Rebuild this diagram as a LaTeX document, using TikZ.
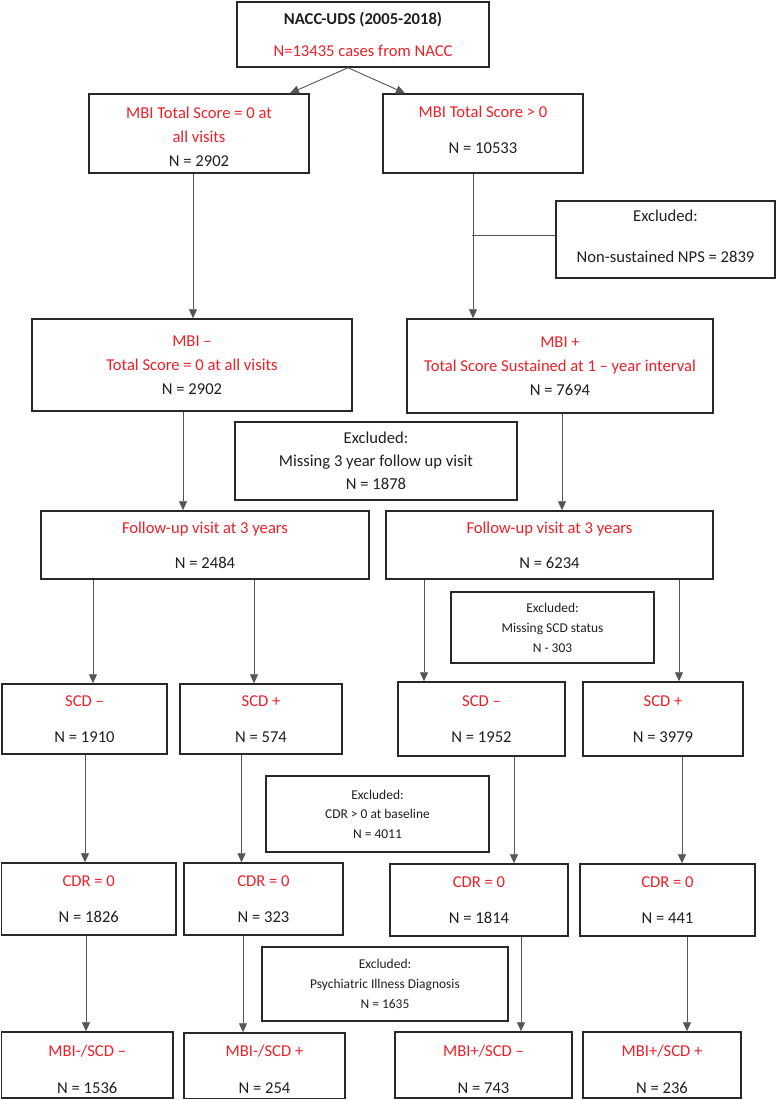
\documentclass[tikz,border=0pt]{standalone}
\usepackage{fontspec}
\setmainfont{Carlito}
\usetikzlibrary{arrows.meta,calc}
\definecolor{txtred}{RGB}{236,32,40}
\definecolor{boxline}{RGB}{40,40,40}
\definecolor{conn}{RGB}{85,85,85}
\newcommand\rd[1]{\textcolor{txtred}{#1}}
\newcommand\vconn[3]{\draw[arr] ($(#1.south)+(#2,0)$) coordinate (tmp) -- (tmp |- #3.north);}
\begin{document}
\begin{tikzpicture}[x=1pt,y=-1pt,
  box/.style={draw=boxline, line width=1.5pt, inner sep=0pt, align=center, text=black!88},
  wh/.style 2 args={minimum width=#1pt, minimum height=#2pt},
  big/.style={font=\fontsize{16.6}{#1}\selectfont},
  small/.style={font=\fontsize{13.45}{#1}\selectfont},
  arr/.style={draw=conn, line width=0.9pt, -{Triangle[width=8pt,length=9pt]}},
  ln/.style={draw=conn, line width=0.9pt}]
\useasboundingbox (0,0) rectangle (776,1100);

\node[box,big=32,wh={252}{65}] (top) at (363,34.5) {{\bfseries NACC-UDS (2005-2018)}\\\rd{N=13435 cases from NACC}};

\node[box,big=24,wh={220}{79}] (B1) at (199,133.5) {\rule{0pt}{17.5pt}\rd{MBI Total Score = 0 at}\\\rd{all visits}\\N = 2902};
\node[box,big=36,wh={200}{79}] (B2) at (483,133.5) {\rd{MBI Total Score > 0}\\N = 10533\rule[-8pt]{0pt}{8pt}};
\node[box,big=41,wh={219}{77}] (NPS) at (665.5,239.5) {Excluded:\\Non-sustained NPS = 2839\rule[-6pt]{0pt}{6pt}};

\node[box,big=24,wh={320}{92}] (MBIm) at (192,365) {\rd{MBI –}\\\rd{Total Score = 0 at all visits}\\N = 2902};
\node[box,big=24,wh={306}{94}] (MBIp) at (560,366) {\rd{MBI +}\\\rd{Total Score Sustained at 1 – year interval}\\N = 7694};

\node[box,big=23,wh={282}{78}] (Miss3) at (376,461) {Excluded:\\Missing 3 year follow up visit\\N = 1878};

\node[box,big=35,wh={328}{68}] (FUl) at (205,545) {\rd{Follow-up visit at 3 years}\\N = 2484};
\node[box,big=35,wh={327}{68}] (FUr) at (549.5,545) {\rd{Follow-up visit at 3 years}\\N = 6234};

\node[box,small=20,wh={203}{71}] (MissSCD) at (552.5,627.5) {Excluded:\\Missing SCD status\\N - 303};

\node[box,big=36,wh={165}{70}] (S1) at (84.5,719) {\rd{SCD –}\\N = 1910};
\node[box,big=36,wh={162}{70}] (S2) at (261,719) {\rd{SCD +}\\N = 574};
\node[box,big=36,wh={167}{74}] (S3) at (481.5,719) {\rd{SCD –}\\N = 1952};
\node[box,big=36,wh={160}{74}] (S4) at (663,719) {\rd{SCD +}\\N = 3979};

\node[box,small=19.5,wh={223}{76}] (CDRx) at (377.5,814) {Excluded:\\CDR > 0 at baseline\\N = 4011};

\node[box,big=36,wh={174.5}{72}] (C1) at (88.75,899) {\rd{CDR = 0}\\N = 1826};
\node[box,big=36,wh={159}{72}] (C2) at (263.5,899) {\rd{CDR = 0}\\N = 323};
\node[box,big=36,wh={178}{72}] (C3) at (479,900) {\rd{CDR = 0}\\N = 1814};
\node[box,big=36,wh={175}{72}] (C4) at (667.5,900) {\rd{CDR = 0}\\N = 441};

\node[box,small=20,wh={246}{74}] (Psy) at (385,984) {Excluded:\\Psychiatric Illness Diagnosis\\N = 1635};

\node[box,big=37,wh={171.5}{66}] (F1) at (87.25,1065) {\rule{0pt}{19.5pt}\rd{MBI-/SCD –}\\N = 1536};
\node[box,big=37,wh={161}{65.5}] (F2) at (264.5,1065.75) {\rule{0pt}{19.5pt}\rd{MBI-/SCD +}\\N = 254};
\node[box,big=37,wh={177}{66}] (F3) at (483.5,1065) {\rule{0pt}{19.5pt}\rd{MBI+/SCD –}\\N = 743};
\node[box,big=37,wh={158}{66}] (F4) at (662,1065) {\rule{0pt}{19.5pt}\rd{MBI+/SCD +}\\N = 236};

% connectors
\draw[arr] ($(top.south)+(-15,0)$) -- ($(B1.north)+(91,0)$);
\draw[arr] ($(top.south)+(-15,0)$) -- ($(B2.north)+(-78,0)$);
\vconn{B1}{-6}{MBIm}
\vconn{B2}{-10}{MBIp}
\draw[ln] ($(NPS.west)+(0,-4.5)$) -- ++(-83,0);
\vconn{MBIm}{-9}{FUl}
\vconn{MBIp}{2}{FUr}
\vconn{FUl}{-112}{S1}
\vconn{FUl}{49}{S2}
\vconn{FUr}{-125.5}{S3}
\vconn{FUr}{129.5}{S4}
\vconn{S1}{0.5}{C1}
\vconn{S2}{-19.5}{C2}
\vconn{S3}{32.5}{C3}
\vconn{S4}{19}{C4}
\vconn{C1}{-2.75}{F1}
\vconn{C2}{-20.5}{F2}
\vconn{C3}{42}{F3}
\vconn{C4}{19.5}{F4}
\end{tikzpicture}
\end{document}
